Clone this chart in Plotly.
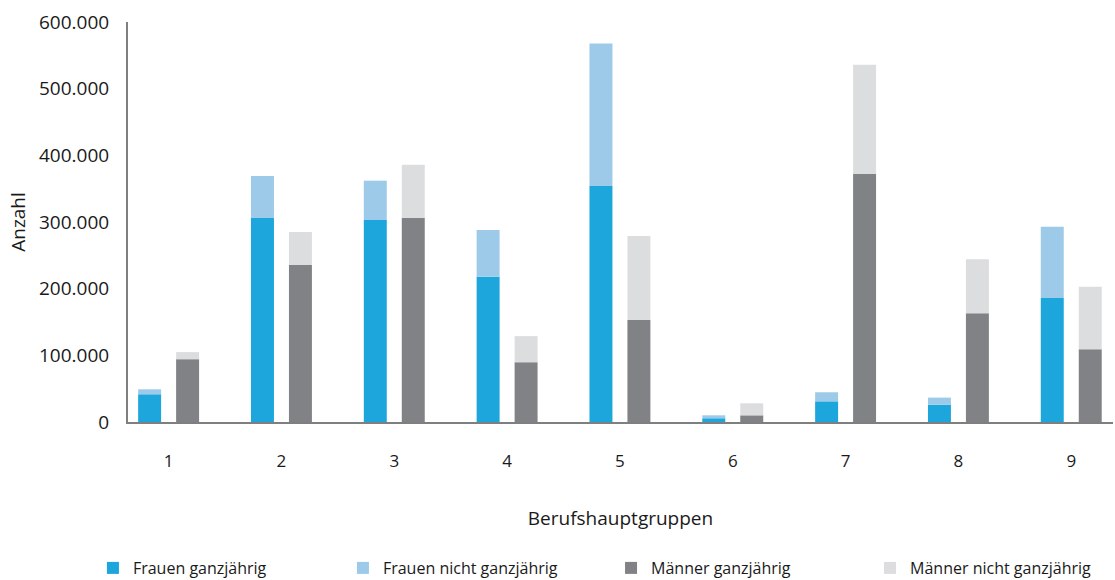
import plotly.graph_objects as go

# Berufshauptgruppen 1-9
gruppen = ["1", "2", "3", "4", "5", "6", "7", "8", "9"]

# values (Anzahl)
frauen_ganz = [41600, 306000, 303000, 218000, 354000, 5600, 31000, 26000, 186000]
frauen_nicht = [7400, 63000, 59000, 70000, 213700, 4400, 13600, 10600, 107000]
maenner_ganz = [94300, 235500, 306000, 89700, 152900, 10000, 372000, 163000, 109000]
maenner_nicht = [10500, 49500, 80000, 39100, 126100, 18000, 164000, 81000, 94000]

fig = go.Figure()
fig.add_trace(go.Bar(x=gruppen, y=frauen_ganz, name="Frauen ganzjährig",
                     offsetgroup="frauen", marker_color="#1ca6db"))
fig.add_trace(go.Bar(x=gruppen, y=frauen_nicht, base=frauen_ganz,
                     name="Frauen nicht ganzjährig",
                     offsetgroup="frauen", marker_color="#9ccae8"))
# men go into a second legend so the legend spacing can follow the reference
fig.add_trace(go.Bar(x=gruppen, y=maenner_ganz, name="Männer ganzjährig",
                     legend="legend2",
                     offsetgroup="maenner", marker_color="#818286"))
fig.add_trace(go.Bar(x=gruppen, y=maenner_nicht, base=maenner_ganz,
                     name="Männer nicht ganzjährig", legend="legend2",
                     offsetgroup="maenner", marker_color="#dcdddf"))
fig.update_traces(marker_line_width=0)

fig.update_layout(
    width=1115,
    height=580,
    barmode="group",
    bargap=0.327,
    bargroupgap=0.395,
    separators=",.",
    plot_bgcolor="white",
    paper_bgcolor="white",
    font=dict(family="Open Sans", size=16, color="#1a1a1a"),
    margin=dict(l=128, r=2, t=22, b=158, autoexpand=False),
    legend=dict(
        orientation="h",
        x=-0.0356,
        xanchor="left",
        y=-0.365,
        yanchor="middle",
        entrywidth=205,
        font=dict(size=16),
    ),
    legend2=dict(
        orientation="h",
        x=0.4904,
        xanchor="left",
        y=-0.365,
        yanchor="middle",
        entrywidth=214,
        font=dict(size=16),
    ),
)
fig.update_xaxes(
    title=dict(text="Berufshauptgruppen", standoff=40),
    range=[-0.36, 8.37],
    automargin=False,
    showline=True,
    linecolor="#7f7f7f",
    linewidth=2,
    ticks="",
    ticklabelstandoff=23,
    tickfont=dict(size=17),
    showgrid=False,
)
fig.update_yaxes(
    title=dict(text="Anzahl", standoff=8),
    range=[0, 600000],
    dtick=100000,
    tickformat=",.0f",
    automargin=False,
    showline=True,
    linecolor="#7f7f7f",
    linewidth=2,
    ticks="",
    ticklabelstandoff=13,
    tickfont=dict(size=19),
    showgrid=False,
    zeroline=False,
)

# drop the default body margin so the figure fills the window exactly
fig.write_html(
    "out.html",
    config={"displayModeBar": False},
    post_script="document.body.style.margin = '0';",
)
